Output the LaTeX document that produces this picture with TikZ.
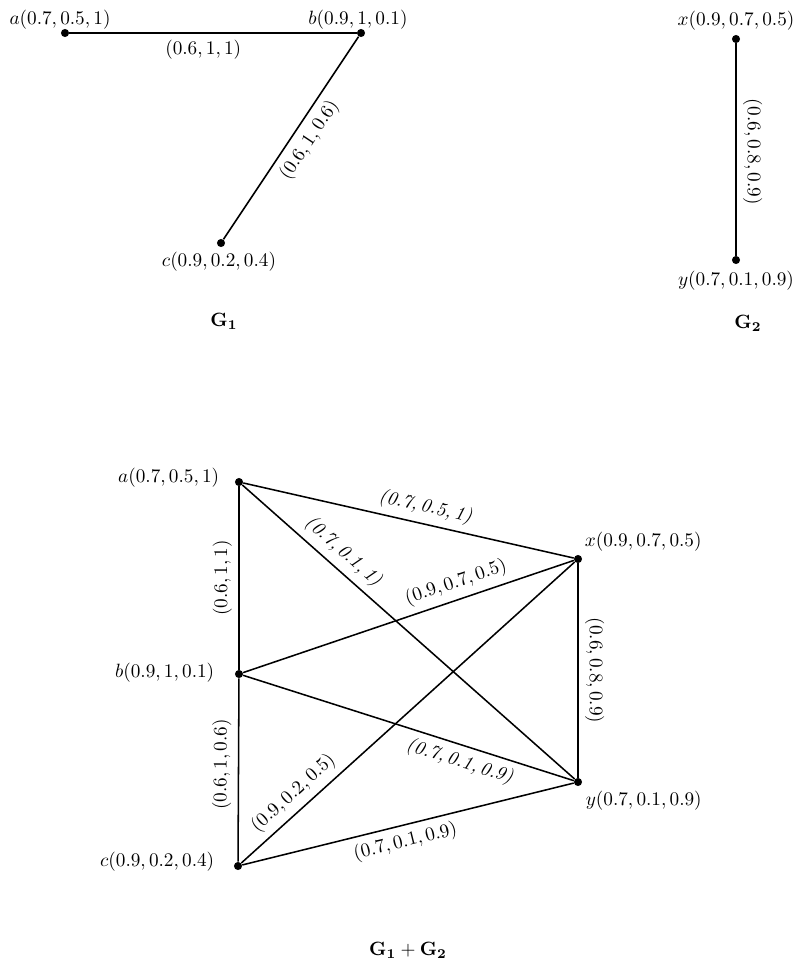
\documentclass[tikz,border=0pt]{standalone}
\begin{document}
\begin{tikzpicture}[x=0.52pt,y=-0.52pt,
  dot/.style={circle,fill=black,inner sep=0pt,minimum size=4.2pt},
  edge/.style={line width=0.8pt},
  elab/.style={sloped,font=\normalsize}]
\useasboundingbox (0,0) rectangle (795,965);
% ---------- G1 ----------
\node[dot] (a1) at (65,33) {};
\node[dot] (b1) at (361,33) {};
\node[dot] (c1) at (221,243) {};
\node (la1) at (60,20) {$a(0.7, 0.5, 1)$};
\node (lb1) at (358,20) {$b(0.9, 1, 0.1)$};
\node (lc1) at (219,262) {$c(0.9, 0.2, 0.4)$};
\draw[edge] (a1) -- (b1) node[pos=0.466,below] {$(0.6, 1, 1)$};
\draw[edge] (c1) -- (b1) node[pos=0.534,elab,below] {$(0.6, 1, 0.6)$};
\node (cap1) at (224,321) {$\mathbf{G_1}$};
% ---------- G2 ----------
\node[dot] (x2) at (736,39) {};
\node[dot] (y2) at (736,260) {};
\node (lx2) at (736,21) {$x(0.9, 0.7, 0.5)$};
\node (ly2) at (736,281) {$y(0.7, 0.1, 0.9)$};
\draw[edge] (x2) -- (y2) node[pos=0.511,elab,above] {$(0.6, 0.8, 0.9)$};
\node (cap2) at (748,323) {$\mathbf{G_2}$};
% ---------- G1 + G2 ----------
\node[dot] (a) at (239,482) {};
\node[dot] (b) at (239,674) {};
\node[dot] (c) at (238,866) {};
\node[dot] (x) at (578,559) {};
\node[dot] (y) at (578,782) {};
\node[anchor=east] (la) at (226,478) {$a(0.7, 0.5, 1)$};
\node[anchor=east] (lb) at (221,673) {$b(0.9, 1, 0.1)$};
\node[anchor=east] (lc) at (221,862) {$c(0.9, 0.2, 0.4)$};
\node[anchor=west] (lx) at (578,542) {$x(0.9, 0.7, 0.5)$};
\node[anchor=west] (ly) at (579,801) {$y(0.7, 0.1, 0.9)$};
\draw[edge] (b) -- (a) node[pos=0.5,elab,above] {$(0.6, 1, 1)$};
\draw[edge] (c) -- (b) node[pos=0.53,elab,above] {$(0.6, 1, 0.6)$};
\draw[edge] (a) -- (x) node[pos=0.54,elab,above] {\textit{(0.7,\,0.5,\,1)}};
\draw[edge] (a) -- (y) node[pos=0.27,elab,above] {\textit{(0.7,\,0.1,\,1)}};
\draw[edge] (b) -- (x) node[pos=0.66,elab,above] {$(0.9, 0.7, 0.5)$};
\draw[edge] (b) -- (y) node[pos=0.67,elab,below] {\textit{(0.7,\,0.1,\,0.9)}};
\draw[edge] (c) -- (x) node[pos=0.19,elab,above] {$(0.9, 0.2, 0.5)$};
\draw[edge] (c) -- (y) node[pos=0.48,elab,below] {$(0.7, 0.1, 0.9)$};
\draw[edge] (x) -- (y) node[pos=0.5,elab,above] {$(0.6, 0.8, 0.9)$};
\node (cap3) at (408,950) {$\mathbf{G_1}+\mathbf{G_2}$};
\end{tikzpicture}
\end{document}
